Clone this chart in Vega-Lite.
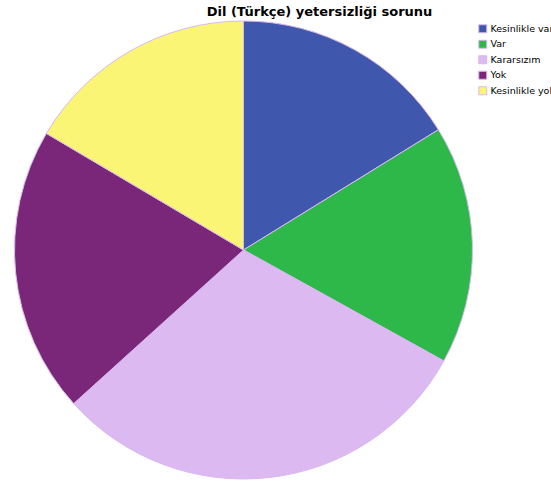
{
  "$schema": "https://vega.github.io/schema/vega-lite/v6.json",
  "autosize": "none",
  "width": 487,
  "height": 500,
  "padding": {"left": 0, "top": 0, "right": 64, "bottom": 0},
  "background": "white",
  "title": {
    "text": "Dil (Türkçe) yetersizliği sorunu",
    "font": "DejaVu Sans",
    "fontSize": 13,
    "fontWeight": "bold",
    "color": "#000000",
    "anchor": "middle",
    "frame": "group",
    "orient": "top",
    "offset": -19,
    "dx": 76
  },
  "data": {
    "values": [
      {"cevap": "Kesinlikle var", "yuzde": 16.2, "sira": 1},
      {"cevap": "Var", "yuzde": 16.85, "sira": 2},
      {"cevap": "Kararsızım", "yuzde": 30.25, "sira": 3},
      {"cevap": "Yok", "yuzde": 20.2, "sira": 4},
      {"cevap": "Kesinlikle yok", "yuzde": 16.5, "sira": 5}
    ]
  },
  "mark": {"type": "arc", "radius": 229, "stroke": "#d9b8f0", "strokeWidth": 1},
  "encoding": {
    "theta": {"field": "yuzde", "type": "quantitative", "stack": true},
    "order": {"field": "sira", "type": "quantitative"},
    "color": {
      "field": "cevap",
      "type": "nominal",
      "sort": ["Kesinlikle var", "Var", "Kararsızım", "Yok", "Kesinlikle yok"],
      "scale": {
        "domain": ["Kesinlikle var", "Var", "Kararsızım", "Yok", "Kesinlikle yok"],
        "range": ["#3f58ad", "#2fb84a", "#ddb9f1", "#7b2779", "#faf575"]
      },
      "legend": {
        "title": null,
        "orient": "none",
        "legendX": 478,
        "legendY": 24,
        "symbolType": "square",
        "symbolSize": 64,
        "symbolStrokeColor": "#d9b8f0",
        "symbolStrokeWidth": 1,
        "labelFont": "DejaVu Sans",
        "labelFontSize": 9.5,
        "labelColor": "#000000",
        "labelOffset": 3,
        "rowPadding": 2.5,
        "labelLimit": 200
      }
    }
  },
  "config": {"view": {"stroke": null}}
}
